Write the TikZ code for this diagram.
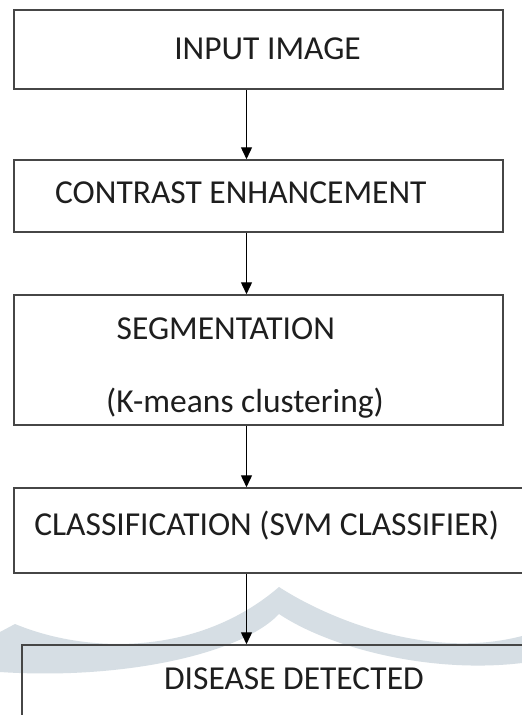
\documentclass[tikz,border=0pt]{standalone}
\usepackage{fontspec}
\setmainfont{Carlito}
\usetikzlibrary{arrows.meta}
\definecolor{wmark}{RGB}{214,222,228}
\definecolor{boxline}{RGB}{70,70,70}
\definecolor{txt}{RGB}{30,30,30}
\tikzset{
  stepbox/.style={draw=boxline, line width=1.5pt, rectangle, inner sep=0pt},
  steptext/.style={text=txt, font=\fontsize{33.5}{40}\selectfont, inner sep=0pt, anchor=base},
  arr/.style={draw=black, line width=1.4pt, -{Triangle[length=12pt,width=11pt]}}
}
\begin{document}
\begin{tikzpicture}[x=1pt,y=-1pt]
\useasboundingbox (0,0) rectangle (522,715);
\clip (0,0) rectangle (522,715);
\fill[white] (0,0) rectangle (522,715);
% watermark
\fill[wmark] (0,632) -- (15,624)
  .. controls (90,655) and (200,655) .. (279,587)
  .. controls (330,620) and (430,660) .. (522,636)
  -- (522,663)
  .. controls (430,674) and (330,648) .. (279,614)
  .. controls (240,655) and (120,680) .. (0,672) -- cycle;
% boxes
\node[stepbox, minimum width=489pt, minimum height=79pt] (b1) at (258.5,49.5) {};
\node[stepbox, minimum width=489pt, minimum height=72pt] (b2) at (258.5,196) {};
\node[stepbox, minimum width=489pt, minimum height=130pt] (b3) at (258.5,360) {};
\node[stepbox, minimum width=546pt, minimum height=85pt] (b4) at (287,530.5) {};
\node[stepbox, minimum width=560pt, minimum height=150pt] (b5) at (302,720) {};
% texts
\node[steptext] (t1) at (267.5,59.5) {INPUT IMAGE};
\node[steptext] (t2) at (240.8,203.5) {CONTRAST ENHANCEMENT};
\node[steptext] (t3a) at (225.8,339.5) {SEGMENTATION};
\node[steptext] (t3b) at (245,412) {(K-means clustering)};
\node[steptext] (t4) at (266.7,535.5) {CLASSIFICATION (SVM CLASSIFIER)};
\node[steptext] (t5) at (294,689.5) {DISEASE DETECTED};
% arrows
\coordinate (ax) at (246.5,0);
\draw[arr] (b1.south -| ax) -- (b2.north -| ax);
\draw[arr] (b2.south -| ax) -- (b3.north -| ax);
\draw[arr] (b3.south -| ax) -- (b4.north -| ax);
\draw[arr] (b4.south -| ax) -- (b5.north -| ax);
\end{tikzpicture}
\end{document}
